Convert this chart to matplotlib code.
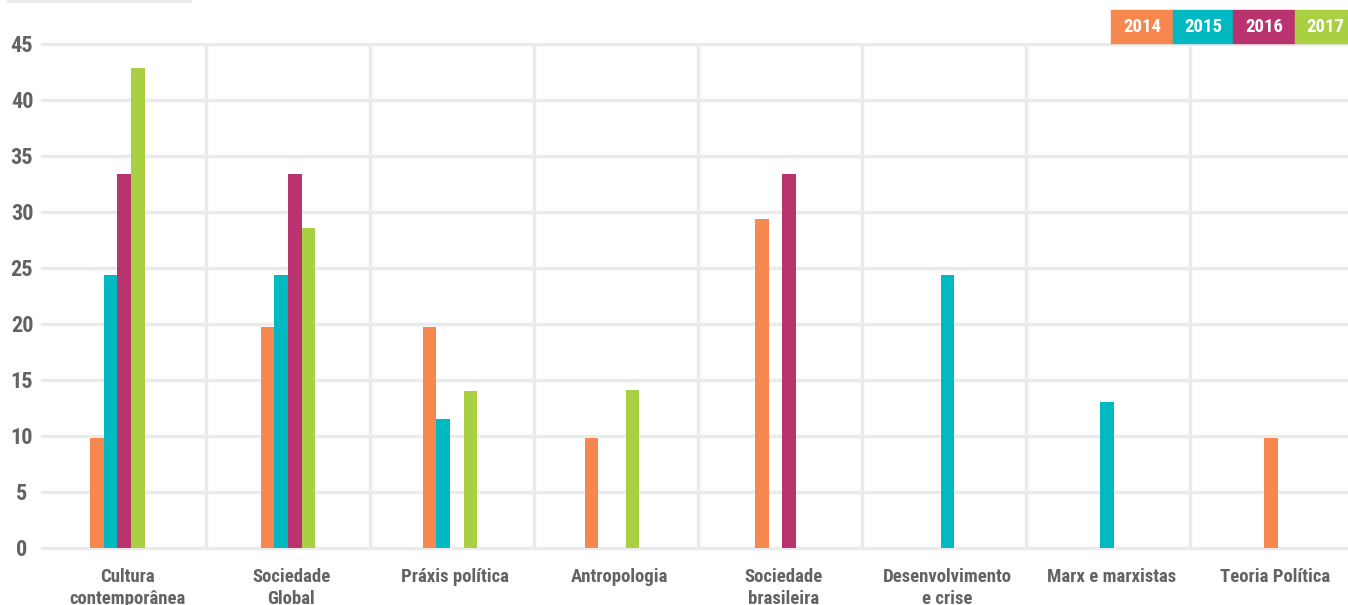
import matplotlib
matplotlib.use("Agg")
import matplotlib.pyplot as plt
from matplotlib.lines import Line2D
from matplotlib.patches import Rectangle
import numpy as np

categories = ["Cultura\ncontemporânea", "Sociedade\nGlobal", "Práxis política",
              "Antropologia", "Sociedade\nbrasileira", "Desenvolvimento\ne crise",
              "Marx e marxistas", "Teoria Política"]
years = ["2014", "2015", "2016", "2017"]
v2014 = [9.8, 19.7, 19.7, 9.8, 29.4, 0, 0, 9.8]
v2015 = [24.4, 24.4, 11.5, 0, 0, 24.4, 13.0, 0]
v2016 = [33.4, 33.4, 0, 0, 33.4, 0, 0, 0]
v2017 = [42.9, 28.6, 14.0, 14.1, 0, 0, 0, 0]
yticks = [0, 5, 10, 15, 20, 25, 30, 35, 40, 45]

# the groups are not exactly centred in the original, small nudge per group
group_nudge = [-0.04, 0.0, -0.012, -0.024, 0.015, 0.064, 0.034, 0.119]

colors = ["#f5874f", "#00b9c1", "#b9336f", "#a9cf43"]
grid_c = "#ebebeb"
text_c = "#636363"
font = dict(family=["Roboto Condensed", "Liberation Sans Narrow", "DejaVu Sans"],
            fontweight="bold")

fig = plt.figure(figsize=(13.48, 6.05), dpi=100)
ax = fig.add_axes([42 / 1348, 1 - 548 / 605, 1312 / 1348, 504 / 605])

x = np.arange(len(categories))
w = 1 / 12
for j, vals in enumerate([v2014, v2015, v2016, v2017]):
    ax.bar(x + np.array(group_nudge) + (j - 1.5) * w, vals, width=w,
           color=colors[j], zorder=3)

ax.set_xlim(-0.5, len(categories) - 0.5)
ax.set_ylim(0, 45)

# grid lines
for t in yticks:
    ax.axhline(t, color=grid_c, lw=2.5, zorder=1, clip_on=False)
for b in np.arange(0.5, len(categories) - 0.5, 1):
    ax.axvline(b, color=grid_c, lw=2.5, zorder=1)

for s in ax.spines.values():
    s.set_visible(False)

ax.set_yticks(yticks)
ax.set_yticklabels([str(t) for t in yticks], color=text_c, fontsize=16, **font)
ax.tick_params(axis="y", length=0, pad=14.4)
for lab in ax.get_yticklabels():
    lab.set_ha("center")

ax.set_xticks(x + 0.02)
ax.set_xticklabels(categories, color=text_c, fontsize=13.5, linespacing=1.3, **font)
ax.tick_params(axis="x", length=0, pad=14.5)

# legend boxes top right
lx = [1111, 1173, 1233, 1295]
lw_ = [62, 60, 62, 60]
for j, yr in enumerate(years):
    fig.patches.append(Rectangle((lx[j] / 1348, 1 - 43 / 605), lw_[j] / 1348, 33 / 605,
                                 transform=fig.transFigure, color=colors[j]))
    fig.text((lx[j] + lw_[j] / 2) / 1348, 1 - 27 / 605, yr, color="white",
             ha="center", va="center", fontsize=13.5, **font)

fig.add_artist(Line2D([8 / 1348, 190 / 1348], [1 - 1 / 605, 1 - 1 / 605],
                      color=grid_c, lw=2, transform=fig.transFigure))

fig.savefig("out.png", dpi=100)
